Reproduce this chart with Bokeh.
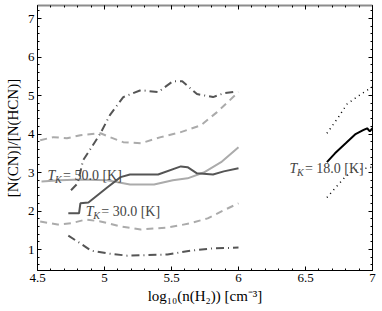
from bokeh.plotting import figure
from bokeh.models import Label, LinearAxis, Range1d, FixedTicker, CustomJSTickFormatter
from bokeh.embed import file_html
from bokeh.resources import INLINE
import numpy as np

# ---- data ----
x_ticks = [4.5, 5, 5.5, 6, 6.5, 7]
x_tick_labels = ["4.5", "5", "5.5", "6", "6.5", "7"]
y_ticks = [1, 2, 3, 4, 5, 6, 7]
y_tick_labels = ["1", "2", "3", "4", "5", "6", "7"]

# T_K = 30 K (dark gray)
t30_mid_x = [4.73, 4.81, 4.82, 4.88, 5.02, 5.12, 5.19, 5.40, 5.57, 5.62, 5.69, 5.81, 5.89, 6.0]
t30_mid_y = [1.94, 1.94, 2.20, 2.22, 2.61, 2.88, 2.95, 2.95, 3.16, 3.14, 2.98, 2.95, 3.03, 3.11]
t30_hi_x = [4.75, 4.80, 4.84, 4.88, 4.97, 5.04, 5.14, 5.27, 5.40, 5.51, 5.58, 5.69, 5.81, 5.89, 5.99]
t30_hi_y = [2.54, 2.72, 3.32, 3.53, 4.02, 4.49, 4.96, 5.14, 5.09, 5.37, 5.37, 5.04, 4.96, 5.06, 5.11]
t30_lo_x = [4.73, 4.82, 4.90, 5.02, 5.17, 5.47, 5.64, 5.81, 6.0]
t30_lo_y = [1.36, 1.16, 0.97, 0.90, 0.84, 0.87, 0.97, 1.03, 1.05]

# T_K = 50 K (light gray)
t50_mid_x = [4.53, 4.67, 4.82, 5.02, 5.19, 5.37, 5.51, 5.62, 5.74, 5.87, 6.0]
t50_mid_y = [2.77, 2.80, 2.82, 2.80, 2.69, 2.69, 2.80, 2.85, 3.00, 3.27, 3.66]
t50_hi_x = [4.52, 4.62, 4.72, 4.82, 4.97, 5.04, 5.14, 5.27, 5.42, 5.57, 5.72, 5.84, 5.96, 6.0]
t50_hi_y = [3.84, 3.92, 3.89, 3.97, 4.02, 3.92, 3.79, 3.76, 3.92, 4.05, 4.23, 4.57, 4.96, 5.09]
t50_lo_x = [4.52, 4.65, 4.75, 4.86, 4.97, 5.12, 5.27, 5.47, 5.64, 5.77, 5.89, 6.0]
t50_lo_y = [1.73, 1.65, 1.68, 1.78, 1.73, 1.60, 1.52, 1.57, 1.68, 1.81, 2.02, 2.20]

# T_K = 18 K (black)
t18_mid_x = [6.66, 6.72, 6.80, 6.87, 6.93, 6.96, 6.98, 7.0]
t18_mid_y = [3.27, 3.50, 3.76, 3.99, 4.10, 4.15, 4.07, 4.15]
t18_hi_x = [6.66, 6.74, 6.81, 6.89, 6.96, 7.0]
t18_hi_y = [4.02, 4.41, 4.78, 4.98, 5.14, 5.22]
t18_lo_x = [6.66, 6.72, 6.80, 6.87, 6.95, 7.0]
t18_lo_y = [2.35, 2.59, 2.90, 3.06, 3.11, 3.14]

SERIF = "Liberation Serif"
DARK = "#555555"
LIGHT = "#ababab"

p = figure(width=382, height=311, x_range=Range1d(4.5, 7), y_range=Range1d(0.455, 7.34),
           output_backend="svg", toolbar_location=None,
           min_border_left=37, min_border_right=10, min_border_top=5, min_border_bottom=41)
p.xgrid.visible = False
p.ygrid.visible = False
p.outline_line_color = None
p.background_fill_color = "white"

x_minor = list(np.round(np.arange(4.5, 7.0001, 0.1), 2))
y_minor = list(np.round(np.arange(0.6, 7.4, 0.2), 2))


def style(ax, labels=True):
    ax.major_tick_in = 4
    ax.major_tick_out = 0
    ax.minor_tick_in = 2
    ax.minor_tick_out = 0
    ax.axis_line_color = "black"
    ax.major_tick_line_color = "black"
    ax.minor_tick_line_color = "black"
    ax.major_label_text_font = SERIF
    ax.major_label_text_font_size = "13px"
    ax.major_label_text_color = "black"
    ax.major_label_standoff = 3 if labels else 0
    if not labels:
        ax.formatter = CustomJSTickFormatter(code="return ''")


p.xaxis.ticker = FixedTicker(ticks=x_ticks, minor_ticks=x_minor)
p.yaxis.ticker = FixedTicker(ticks=y_ticks, minor_ticks=y_minor)
style(p.xaxis[0])
style(p.yaxis[0])
p.xaxis.major_label_overrides = dict(zip(x_ticks, x_tick_labels))
p.yaxis.major_label_overrides = dict(zip(y_ticks, y_tick_labels))

p.xaxis.axis_label = "log\u2081\u2080(n(H\u2082)) [cm\u207b\u00b3]"
p.xaxis.axis_label_text_font = SERIF
p.xaxis.axis_label_text_font_style = "normal"
p.xaxis.axis_label_text_font_size = "15px"
p.xaxis.axis_label_text_color = "black"
p.xaxis.axis_label_standoff = 3

p.yaxis.axis_label = "[N(CN)]/[N(HCN)]"
p.yaxis.axis_label_text_font = SERIF
p.yaxis.axis_label_text_font_style = "normal"
p.yaxis.axis_label_text_font_size = "15px"
p.yaxis.axis_label_text_color = "black"
p.yaxis.axis_label_standoff = 4

top = LinearAxis(ticker=FixedTicker(ticks=x_ticks, minor_ticks=x_minor))
style(top, labels=False)
top.axis_line_color = "#8c8c8c"
top.axis_line_width = 2
p.add_layout(top, "above")
right = LinearAxis(ticker=FixedTicker(ticks=y_ticks, minor_ticks=y_minor))
style(right, labels=False)
p.add_layout(right, "right")

# curves
p.line(t50_hi_x, t50_hi_y, color=LIGHT, line_width=2, line_dash="7 5")
p.line(t50_lo_x, t50_lo_y, color=LIGHT, line_width=2, line_dash="7 5")
p.line(t50_mid_x, t50_mid_y, color=LIGHT, line_width=2)
p.line(t30_hi_x, t30_hi_y, color=DARK, line_width=2, line_dash="8 4 1 4")
p.line(t30_lo_x, t30_lo_y, color=DARK, line_width=2, line_dash="8 4 1 4")
p.line(t30_mid_x, t30_mid_y, color=DARK, line_width=2)
p.line(t18_hi_x, t18_hi_y, color="black", line_width=1.5, line_dash="1 4")
p.line(t18_lo_x, t18_lo_y, color="black", line_width=1.5, line_dash="1 4")
p.line(t18_mid_x, t18_mid_y, color="black", line_width=2)


def tlabel(x, y, rest):
    p.add_layout(Label(x=x, y=y, text="T", text_font=SERIF, text_font_style="italic",
                       text_font_size="14px", text_baseline="middle", text_align="left"))
    p.add_layout(Label(x=x, y=y, x_offset=7.5, y_offset=-4, text="K", text_font=SERIF,
                       text_font_style="italic", text_font_size="10px",
                       text_baseline="middle", text_align="left"))
    p.add_layout(Label(x=x, y=y, x_offset=15.5, text=rest, text_font=SERIF,
                       text_font_size="14px", text_baseline="middle", text_align="left"))


tlabel(4.575, 2.92, " = 50.0 [K]")
tlabel(4.86, 1.99, " = 30.0 [K]")
tlabel(6.38, 3.10, " = 18.0 [K]")

open("out.html", "w").write(file_html(p, INLINE))
